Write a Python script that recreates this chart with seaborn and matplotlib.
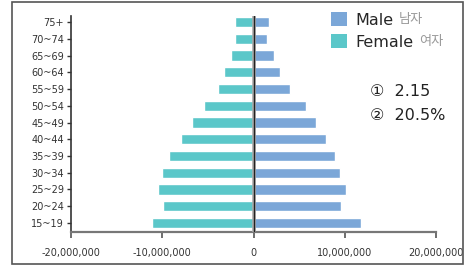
import numpy as np
import pandas as pd
import matplotlib.pyplot as plt
import seaborn as sns
from matplotlib.patches import Rectangle, Patch
from matplotlib.ticker import FuncFormatter

# age groups, bottom to top
ages = ["15~19", "20~24", "25~29", "30~34", "35~39", "40~44", "45~49",
        "50~54", "55~59", "60~64", "65~69", "70~74", "75+"]
male = [11.8, 9.6, 10.1, 9.5, 8.9, 7.9, 6.8, 5.8, 4.0, 2.9, 2.3, 1.5, 1.7]
female = [11.1, 9.9, 10.5, 10.0, 9.25, 8.0, 6.7, 5.4, 3.9, 3.2, 2.45, 2.0, 2.0]
male = [v * 1e6 for v in male]
female = [-v * 1e6 for v in female]

male_color = "#7ba7d8"
female_color = "#5bc7c9"

df = pd.DataFrame({"age": ages, "male": male, "female": female})
order = ages[::-1]

sns.set_style("white")
plt.rcParams["font.family"] = ["Liberation Sans Narrow", "DejaVu Sans", "Noto Sans CJK KR"]

fig = plt.figure(figsize=(4.68, 2.66), dpi=100)
ax = fig.add_axes([71 / 468, 1 - 231.7 / 266, 365 / 468, 215.7 / 266])

sns.barplot(data=df, x="male", y="age", order=order, color=male_color,
            width=0.62, orient="h", ax=ax, saturation=1)
sns.barplot(data=df, x="female", y="age", order=order, color=female_color,
            width=0.62, orient="h", ax=ax, saturation=1)

ax.axvline(0, color="#aaaaaa", lw=2.6, zorder=3)
ax.axvline(0, color="#222222", lw=1.0, zorder=4)

ax.set_xlim(-20e6, 20e6)
ax.set_ylim(12.52, -0.36)
ax.set_xticks([-20e6, -10e6, 0, 10e6, 20e6])
ax.xaxis.set_major_formatter(FuncFormatter(lambda v, p: "{:,.0f}".format(v)))
ax.set_xlabel("")
ax.set_ylabel("")

for s in ["top", "right"]:
    ax.spines[s].set_visible(False)
ax.spines["left"].set_color("#333333")
ax.spines["left"].set_linewidth(1.2)
ax.spines["bottom"].set_color("#777777")
ax.spines["bottom"].set_linewidth(1.6)
ax.tick_params(axis="y", length=3, width=1, color="#333333", labelsize=7,
               labelcolor="#333333", pad=2, left=True)
ax.tick_params(axis="x", length=4, width=1.2, color="#555555", labelsize=7,
               labelcolor="#333333", pad=8, bottom=True)

# legend
handles = [Patch(facecolor=male_color, edgecolor="none"),
           Patch(facecolor=female_color, edgecolor="none")]
fig.legend(handles, ["Male", "Female"], loc="upper left",
           bbox_to_anchor=(331 / 468, 1 - 12 / 266), frameon=False,
           borderpad=0, borderaxespad=0,
           handlelength=1.0, handleheight=1.0,
           handletextpad=0.5, labelspacing=0.4,
           prop={"family": ["DejaVu Sans"], "size": 11.5})
fig.text(399 / 468, 1 - 20 / 266, "남자", fontsize=9.5, color="#999999",
         va="center", family=["Noto Sans CJK KR"])
fig.text(419 / 468, 1 - 42 / 266, "여자", fontsize=9.5, color="#999999",
         va="center", family=["Noto Sans CJK KR"])

fig.text(370 / 468, 1 - 92 / 266, "①  2.15", fontsize=11.5, color="#222222",
         va="center", family=["DejaVu Sans", "Noto Sans CJK KR"])
fig.text(370 / 468, 1 - 116 / 266, "②  20.5%", fontsize=11.5, color="#222222",
         va="center", family=["DejaVu Sans", "Noto Sans CJK KR"])

fig.patches.append(Rectangle((12 / 468, 2 / 266), 451 / 468, 262 / 266,
                             transform=fig.transFigure, fill=False,
                             edgecolor="#555555", lw=1.2))

fig.savefig("out.png", dpi=100)
